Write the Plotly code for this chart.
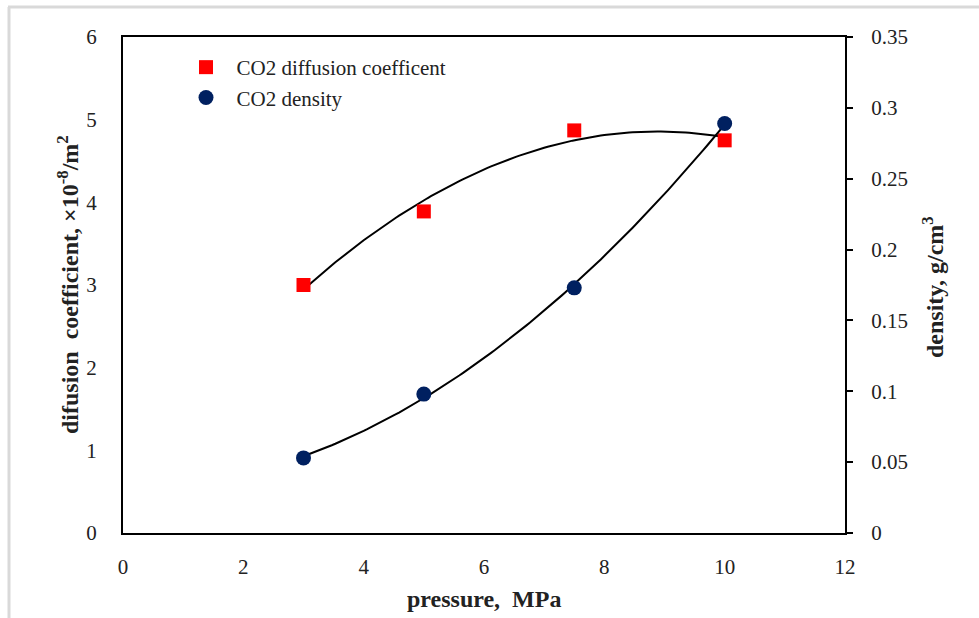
import numpy as np
import plotly.graph_objects as go

pressure = [3, 5, 7.5, 10]
diffusion = [3.0, 3.89, 4.87, 4.75]
density = [0.053, 0.098, 0.173, 0.289]

x_fit = np.linspace(min(pressure), max(pressure), 120)
d_fit = np.polyval(np.polyfit(pressure, diffusion, 2), x_fit)
r_fit = np.polyval(np.polyfit(pressure, density, 2), x_fit)

FONT = "Liberation Serif, Times New Roman, serif"
TXT = "#222222"
PAD = "\u00a0\u00a0"

fig = go.Figure()
fig.add_trace(go.Scatter(x=x_fit, y=d_fit, mode="lines", line=dict(color="black", width=2),
                         showlegend=False, hoverinfo="skip"))
fig.add_trace(go.Scatter(x=x_fit, y=r_fit, mode="lines", line=dict(color="black", width=2),
                         showlegend=False, hoverinfo="skip", yaxis="y2"))
fig.add_trace(go.Scatter(x=pressure, y=diffusion, mode="markers", name=PAD + "CO2 diffusion coefficent",
                         marker=dict(symbol="square", size=14, color="#ff0000")))
fig.add_trace(go.Scatter(x=pressure, y=density, mode="markers", name=PAD + "CO2 density", yaxis="y2",
                         marker=dict(symbol="circle", size=15, color="#002060")))

L, R, T, B = 123, 845, 37, 533
W, H = 979, 618
pw, ph = R - L, B - T

def px(x):
    return (x - L) / pw

def py(y):
    return (B - y) / ph

fig.update_layout(
    width=W, height=H,
    margin=dict(l=L, r=W - R, t=T, b=H - B),
    paper_bgcolor="white", plot_bgcolor="white",
    font=dict(family=FONT, size=21, color=TXT),
    xaxis=dict(range=[0, 12], dtick=2, showgrid=False, zeroline=False,
               showline=True, linecolor="black", linewidth=2, mirror=True,
               ticks="", ticklabelstandoff=14, tickfont=dict(size=21)),
    yaxis=dict(range=[0, 6], dtick=1, showgrid=False, zeroline=False,
               showline=True, linecolor="black", linewidth=2,
               ticks="", ticklabelstandoff=20, tickfont=dict(size=21)),
    yaxis2=dict(range=[0, 0.35], dtick=0.05, overlaying="y", side="right",
                showgrid=False, zeroline=False, showline=True, linecolor="black",
                linewidth=2, ticks="outside", ticklen=6, tickwidth=1.5, tickcolor="black",
                ticklabelstandoff=14, tickfont=dict(size=21)),
    legend=dict(x=px(186), y=py(47), xanchor="left", yanchor="top",
                bgcolor="rgba(0,0,0,0)", font=dict(family=FONT, size=21, color=TXT),
                itemwidth=30, tracegroupgap=0),
    showlegend=True,
    annotations=[
        dict(text="<b>pressure,  MPa</b>", x=0.5, y=py(599), xref="paper", yref="paper",
             showarrow=False, xanchor="center", yanchor="middle",
             font=dict(family=FONT, size=24, color=TXT)),
        dict(text="<b>difusion  coefficient, ×10<sup>-8</sup>/m<sup>2</sup></b>", x=px(68), y=0.5,
             xref="paper", yref="paper", showarrow=False, textangle=-90,
             xanchor="center", yanchor="middle", font=dict(family=FONT, size=24, color=TXT)),
        dict(text="<b>density, g/cm<sup>3</sup></b>", x=px(933), y=py(287),
             xref="paper", yref="paper", showarrow=False, textangle=-90,
             xanchor="center", yanchor="middle", font=dict(family=FONT, size=24, color=TXT)),
    ],
    shapes=[
        dict(type="line", xref="paper", yref="paper", x0=px(9), x1=px(9), y0=py(7), y1=py(620),
             line=dict(color="#d9d9d9", width=3)),
        dict(type="line", xref="paper", yref="paper", x0=px(8), x1=px(985), y0=py(7), y1=py(7),
             line=dict(color="#d9d9d9", width=3)),
    ],
)

fig.write_html("out.html", config={"displayModeBar": False},
               post_script="document.body.style.margin='0px';document.body.style.overflow='hidden';")
